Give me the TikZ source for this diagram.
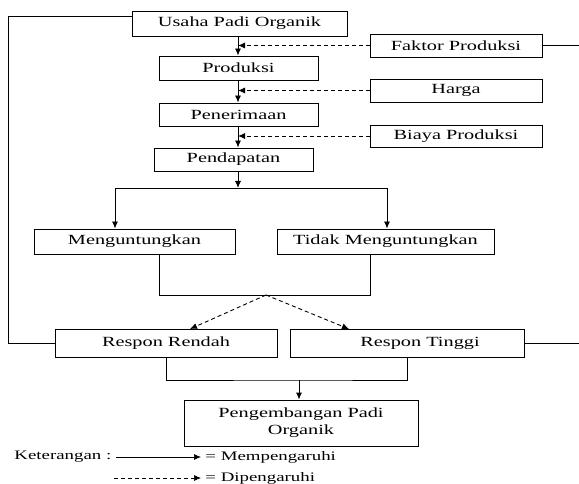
\documentclass[tikz,border=0pt]{standalone}
\usepackage{fontspec}
\setmainfont[FakeStretch=1.45]{Liberation Serif}
\usetikzlibrary{arrows.meta}
\begin{document}
\begin{tikzpicture}[x=1pt,y=-1pt,
    line width=0.9pt,
    kotak/.style={draw, inner sep=0pt, font=\fontsize{14}{17}\selectfont},
    ket/.style={anchor=west, inner sep=0pt, font=\fontsize{13}{15}\selectfont},
    panah/.style={-{Latex[length=7pt,width=6pt]}},
    putus/.style={panah, dash pattern=on 4pt off 3pt}]
  \useasboundingbox (0,0) rectangle (579,484);
  % alur utama
  \node[kotak, minimum width=215pt, minimum height=25pt] (usaha) at (239.5,23.5) {Usaha Padi Organik};
  \node[kotak, minimum width=159pt, minimum height=24pt] (produksi) at (238.5,68) {Produksi};
  \node[kotak, minimum width=159pt, minimum height=23pt] (penerimaan) at (238.5,114.5) {Penerimaan};
  \node[kotak, minimum width=159pt, minimum height=23pt] (pendapatan) at (233.5,159.5) {Pendapatan};
  % faktor dari kanan
  \node[kotak, minimum width=172pt, minimum height=23pt] (faktor) at (456,45.5) {Faktor Produksi};
  \node[kotak, minimum width=172pt, minimum height=23pt] (harga) at (456,90.5) {Harga};
  \node[kotak, minimum width=172pt, minimum height=22pt] (biaya) at (456,136) {Biaya Produksi};
  % hasil
  \node[kotak, minimum width=201pt, minimum height=25pt] (untung) at (134.5,241.5) {Menguntungkan};
  \node[kotak, minimum width=217pt, minimum height=25pt] (rugi) at (385.5,241.5) {Tidak Menguntungkan};
  \node[kotak, minimum width=222pt, minimum height=28pt] (rendah) at (166,343) {Respon Rendah};
  \node[kotak, minimum width=234pt, minimum height=28pt] (tinggi) at (407,343) {\hspace*{26pt}Respon Tinggi};
  \node[kotak, minimum width=234pt, minimum height=46pt, align=center] (kembang) at (301,423) {Pengembangan Padi\\Organik};
  % titik bantu
  \coordinate (bagi) at (238,188);
  \coordinate (kiri) at (115,188);
  \coordinate (kanan) at (387,188);
  \coordinate (gabungkiri) at (159,295);
  \coordinate (gabung) at (266,295);
  \coordinate (gabungkanan) at (370,295);
  \coordinate (ujungrendah) at (190,329);
  \coordinate (ujungtinggi) at (349,329);
  \coordinate (balik) at (8,16);
  \coordinate (tepiatas) at (579,45.5);
  \coordinate (tepibawah) at (579,343);
  \coordinate (gabungbawah) at (299,380);
  % panah utama
  \draw[panah] (usaha.south -| bagi) -- (produksi.north -| bagi);
  \draw[panah] (produksi.south -| bagi) -- (penerimaan.north -| bagi);
  \draw[panah] (penerimaan.south -| bagi) -- (pendapatan.north -| bagi);
  \draw[panah] (pendapatan.south -| bagi) -- (bagi);
  \draw[putus] (faktor.west) -- (faktor.west -| bagi);
  \draw[putus] (harga.west) -- (harga.west -| bagi);
  \draw[putus] (biaya.west) -- (biaya.west -| bagi);
  \draw[panah] (kanan) -- (kiri) -- (untung.north -| kiri);
  \draw[panah] (kiri) -- (kanan) -- (rugi.north -| kanan);
  \draw (untung.south -| gabungkiri) -- (gabungkiri) -- (gabungkanan) -- (rugi.south -| gabungkanan);
  \draw[putus] (gabung) -- (ujungrendah);
  \draw[putus] (gabung) -- (ujungtinggi);
  \draw (rendah.south) |- (gabungbawah) -| (tinggi.south);
  \draw[panah] (gabungbawah) -- (kembang.north -| gabungbawah);
  % umpan balik
  \draw (rendah.west) -| (balik) -- (balik -| usaha.west);
  \draw (faktor.east) -- (tepiatas);
  \draw (tinggi.east) -- (tepibawah);
  % keterangan
  \node[ket] (keterangan) at (14,457) {Keterangan :};
  \node[ket] (mempengaruhi) at (205,457) {= Mempengaruhi};
  \node[ket] (dipengaruhi) at (205,478) {= Dipengaruhi};
  \coordinate (garisawal) at (116,457);
  \coordinate (putusawal) at (114,478);
  \draw[panah, line width=0.7pt] (garisawal) -- ([xshift=-4pt]mempengaruhi.west);
  \draw[putus, line width=0.7pt] (putusawal) -- ([xshift=-4pt]dipengaruhi.west);
\end{tikzpicture}
\end{document}
